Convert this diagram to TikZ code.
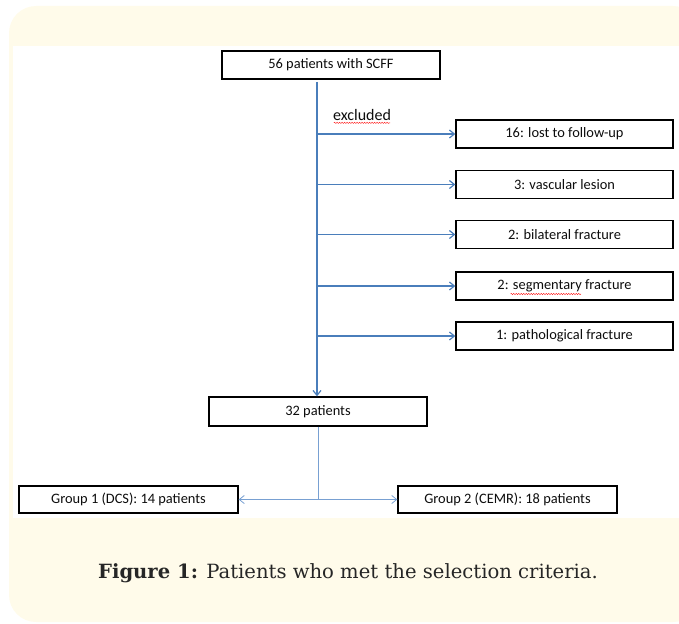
\documentclass[tikz,border=0pt]{standalone}
\usepackage{fontspec}
\setmainfont{DejaVu Serif}
\newfontfamily\boxfont{Carlito}
\usetikzlibrary{arrows.meta,calc,decorations.pathmorphing}
\definecolor{cream}{RGB}{255,251,234}
\definecolor{officeblue}{RGB}{74,126,187}
\definecolor{lightblue}{RGB}{120,160,210}

\begin{document}
\begin{tikzpicture}[x=1pt, y=-1pt,
	box/.style={draw=black, line width=1.3pt, inner sep=0pt, minimum height=28pt, minimum width=217pt, text=black!95, font=\boxfont\fontsize{14.4}{16}\selectfont},
	flow/.style={draw=officeblue, line width=1.2pt, -{Straight Barb[length=5pt,width=8pt]}},
	split/.style={draw=lightblue, line width=0.8pt, -{Straight Barb[length=5pt,width=8pt]}},
	squiggle/.style={draw=red, line width=0.4pt, decorate, decoration={snake, amplitude=0.6pt, segment length=2.5pt}}]
		%%%%% START %%%%%
		\useasboundingbox (0, 0) rectangle (679, 623);
		
		\fill[cream, rounded corners=27pt] (9, 6) rectangle (700, 622);
		\fill[white] (13, 46) rectangle (679, 518);
		
		\node[box, minimum width=218pt] (all) at (331, 65) {56 patients with SCFF};
		
		\node[box] (lost) at (564.5, 134) {16: lost to follow-up};
		\node[box] (vasc) at (564.5, 184.5) {3: vascular lesion};
		\node[box] (bilat) at (564.5, 234.5) {2: bilateral fracture};
		\node[box] (segm) at (564.5, 286) {2: segmentary fracture};
		\node[box] (patho) at (564.5, 336) {1: pathological fracture};
		
		\node[box, minimum width=218pt, minimum height=29pt] (kept) at (318, 411.5) {32 patients};
		
		\node[box, minimum width=219pt, minimum height=27pt] (dcs) at (128.5, 499.5) {Group 1 (DCS): 14 patients};
		\node[box, minimum width=219pt, minimum height=27pt] (cemr) at (507.5, 499.5) {Group 2 (CEMR): 18 patients};
		
		\coordinate (trunk) at (317, 82);
		\draw[flow] (trunk) -- (trunk |- kept.north);
		\foreach \b in {lost, vasc, bilat, segm, patho}
			\draw[flow] (trunk |- \b.west) -- (\b.west);
		
		\node[text=black!95, font=\boxfont\fontsize{16}{18}\selectfont, inner sep=0pt] (excl) at (362, 115) {excluded};
		\draw[squiggle] ($(excl.south west)+(1, 2)$) -- ($(excl.south east)+(-1, 2)$);
		\draw[squiggle] (510.5, 294) -- (581, 294);
		
		\coordinate (fork) at (kept.south |- dcs.east);
		\draw[lightblue, line width=0.8pt] (kept.south) -- (fork);
		\draw[split] (fork) -- (dcs.east);
		\draw[split] (fork) -- (cemr.west);
		
		\node[font=\fontsize{19.6}{24}\selectfont, text=black!85] (caption) at (348, 573) {\textbf{Figure 1:} Patients who met the selection criteria.};
		
		%%%%% END %%%%%
	\end{tikzpicture}
\end{document}
